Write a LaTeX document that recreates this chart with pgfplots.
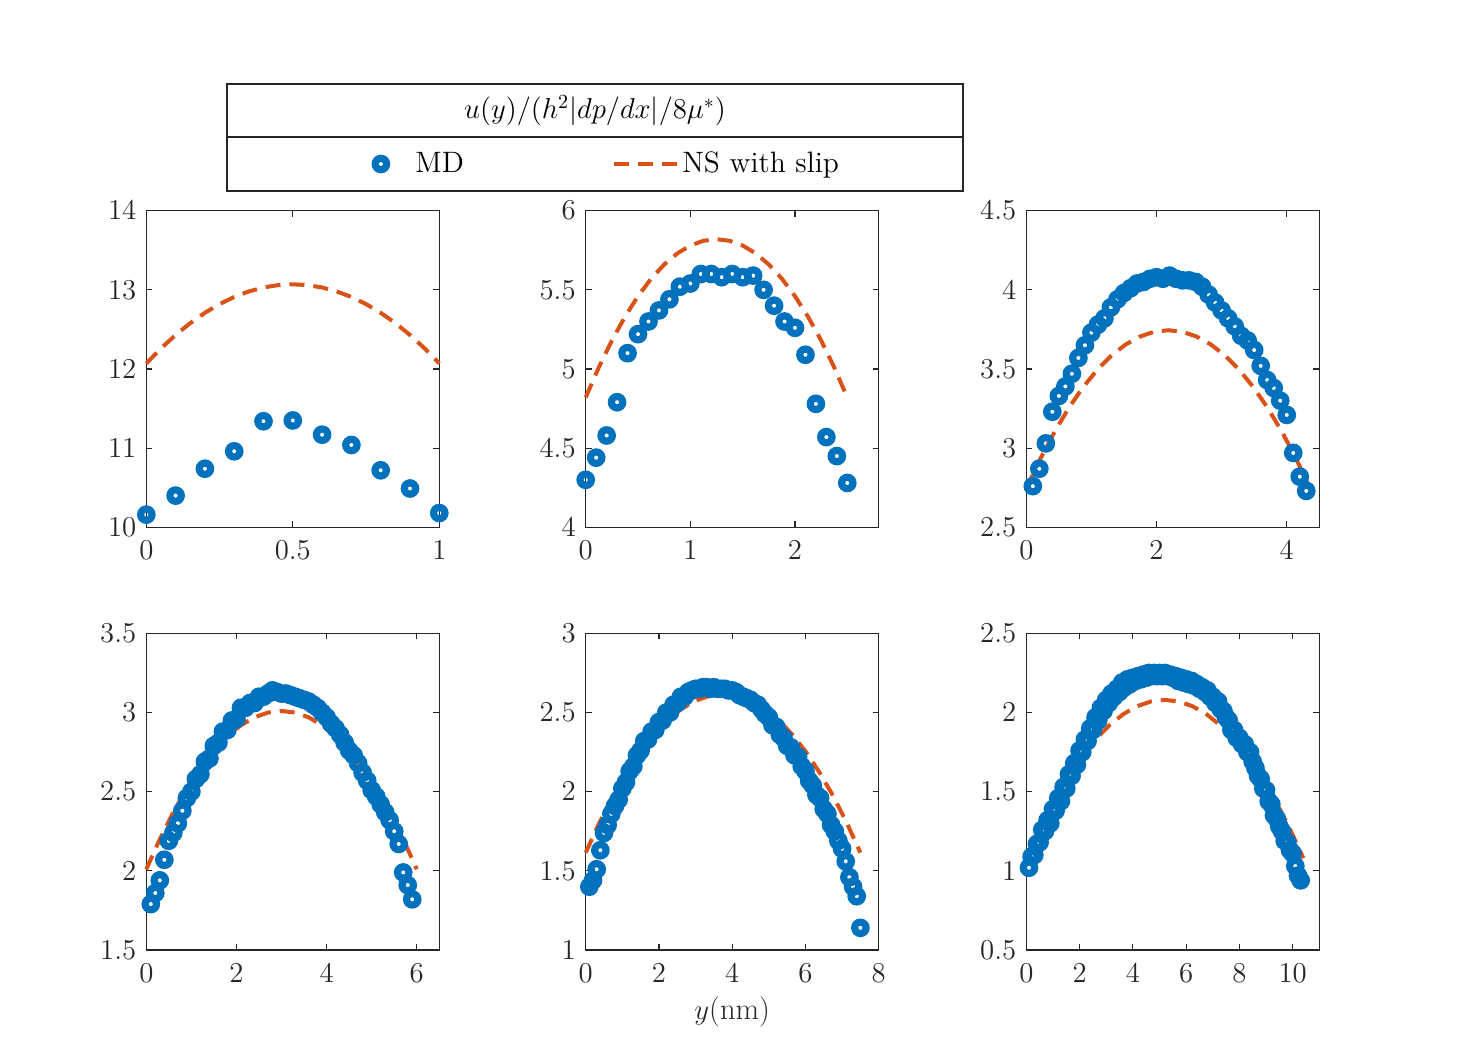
\documentclass[border=0pt]{standalone}
\usepackage{pgfplots}
\pgfplotsset{compat=1.18}
\definecolor{mblue}{rgb}{0,0.447,0.741}
\definecolor{morange}{rgb}{0.85,0.325,0.098}
\definecolor{axgray}{rgb}{0.15,0.15,0.15}
\pgfplotsset{
  panel/.style={
    scale only axis, width=146.5pt, height=158.3pt, anchor=south west,
    clip=false,
    axis line style={axgray, line width=0.6pt},
    tick style={axgray, line width=0.6pt},
    major tick length=3pt,
    tick align=inside,
    tick label style={font=\fontsize{15.25}{18}\selectfont, text=axgray},
    xticklabel style={yshift=-3.5pt},
    yticklabel style={xshift=-1.5pt},
    scaled ticks=false,
  },
  md/.style={only marks, mark=o, mark size=2.85pt, color=mblue, line width=3.6pt,
    legend image code/.code={\path[draw=none,fill=none] (0pt,0pt) (31.5pt,0pt);\draw[##1] plot coordinates {(15.75pt,0pt)};}},
  ns/.style={no marks, color=morange, line width=2pt, dash pattern=on 7.5pt off 4.5pt,
    legend image code/.code={\draw[##1] (0pt,0pt) -- (31.5pt,0pt);}},
}
\begin{document}
\begin{tikzpicture}
\path[use as bounding box] (0,0) rectangle (733.5pt,528pt);
% ---------- panel 1
\begin{axis}[panel, at={(73.15pt,264.35pt)}, xmin=0, xmax=1, ymin=10, ymax=14,
  xtick={0,0.5,1}, ytick={10,11,12,13,14},
  legend columns=2, legend cell align=left,
  legend style={at={(0.6918,1.1475)}, anchor=west, draw=none, fill=none,
    inner xsep=0pt, inner ysep=0pt, nodes={inner sep=1.5pt, text depth=0.15em},
    font=\fontsize{14.75}{17}\selectfont,
    /tikz/every even column/.append style={column sep=72.7pt}},
]
\addplot[md] coordinates {(0,10.16) (0.1,10.40) (0.2,10.74) (0.3,10.96) (0.4,11.34) (0.5,11.35) (0.6,11.17) (0.7,11.04) (0.8,10.72) (0.9,10.49) (1.0,10.18)};
\addlegendentry{MD}
\addplot[ns] coordinates {(0,12.07) (0.05,12.26) (0.1,12.43) (0.15,12.58) (0.2,12.71) (0.25,12.82) (0.3,12.91) (0.35,12.98) (0.4,13.03) (0.45,13.06) (0.5,13.07) (0.55,13.06) (0.6,13.03) (0.65,12.98) (0.7,12.91) (0.75,12.82) (0.8,12.71) (0.85,12.58) (0.9,12.43) (0.95,12.26) (1.0,12.07)};
\addlegendentry{NS with slip}
\end{axis}
% ---------- panel 2
\begin{axis}[panel, at={(292.85pt,264.35pt)}, xmin=0, xmax=2.8, ymin=4, ymax=6,
  xtick={0,1,2}, ytick={4,4.5,5,5.5,6}]
\addplot[md] coordinates {(0,4.30) (0.1,4.44) (0.2,4.58) (0.3,4.79) (0.4,5.10) (0.5,5.22) (0.6,5.30) (0.7,5.37) (0.8,5.44) (0.9,5.52) (1.0,5.54) (1.1,5.60) (1.2,5.60) (1.3,5.58) (1.4,5.60) (1.5,5.58) (1.6,5.59) (1.7,5.50) (1.8,5.40) (1.9,5.30) (2.0,5.26) (2.1,5.09) (2.2,4.78) (2.3,4.57) (2.4,4.45) (2.5,4.28)};
\addplot[ns] coordinates {(0,4.82) (0.125,5.01) (0.25,5.18) (0.375,5.33) (0.5,5.46) (0.625,5.57) (0.75,5.66) (0.875,5.73) (1.0,5.78) (1.125,5.81) (1.25,5.82) (1.375,5.81) (1.5,5.78) (1.625,5.73) (1.75,5.66) (1.875,5.57) (2.0,5.46) (2.125,5.33) (2.25,5.18) (2.375,5.01) (2.5,4.82)};
\end{axis}
% ---------- panel 3
\begin{axis}[panel, at={(513.15pt,264.35pt)}, xmin=0, xmax=4.5, ymin=2.5, ymax=4.5,
  xtick={0,2,4}, ytick={2.5,3,3.5,4,4.5}]
\addplot[md] coordinates {(0.1,2.76) (0.2,2.87) (0.3,3.03) (0.4,3.23) (0.5,3.33) (0.6,3.39) (0.7,3.47) (0.8,3.57) (0.9,3.65) (1.0,3.73) (1.1,3.78) (1.2,3.82) (1.3,3.89) (1.4,3.94) (1.5,3.98) (1.6,4.01) (1.7,4.04) (1.8,4.05) (1.9,4.07) (2.0,4.08) (2.1,4.07) (2.2,4.09) (2.3,4.07) (2.4,4.06) (2.5,4.06) (2.6,4.05) (2.7,4.02) (2.8,3.97) (2.9,3.92) (3.0,3.87) (3.1,3.82) (3.2,3.77) (3.3,3.71) (3.4,3.68) (3.5,3.62) (3.6,3.52) (3.7,3.43) (3.8,3.38) (3.9,3.30) (4.0,3.21) (4.1,2.97) (4.2,2.82) (4.3,2.73)};
\addplot[ns] coordinates {(0,2.745) (0.218,2.935) (0.436,3.105) (0.654,3.255) (0.872,3.385) (1.09,3.495) (1.308,3.585) (1.526,3.655) (1.744,3.705) (1.962,3.735) (2.18,3.745) (2.398,3.735) (2.616,3.705) (2.834,3.655) (3.052,3.585) (3.27,3.495) (3.488,3.385) (3.706,3.255) (3.924,3.105) (4.142,2.935) (4.36,2.745)};
\end{axis}
% ---------- panel 4
\begin{axis}[panel, at={(73.15pt,53pt)}, xmin=0, xmax=6.5, ymin=1.5, ymax=3.5,
  xtick={0,2,4,6}, ytick={1.5,2,2.5,3,3.5}]
\addplot[md] coordinates {(0.1,1.79) (0.2,1.86) (0.3,1.94) (0.4,2.07) (0.5,2.19) (0.6,2.24) (0.7,2.30) (0.8,2.38) (0.9,2.46) (1.0,2.50) (1.1,2.58) (1.2,2.61) (1.3,2.69) (1.4,2.71) (1.5,2.79) (1.6,2.81) (1.7,2.88) (1.8,2.89) (1.9,2.95) (2.0,2.96) (2.1,3.03) (2.2,3.03) (2.3,3.06) (2.4,3.06) (2.5,3.10) (2.6,3.10) (2.7,3.12) (2.8,3.14) (2.9,3.13) (3.0,3.12) (3.1,3.12) (3.2,3.11) (3.3,3.10) (3.4,3.09) (3.5,3.08) (3.6,3.07) (3.7,3.05) (3.8,3.03) (3.9,3.00) (4.0,2.97) (4.1,2.93) (4.2,2.90) (4.3,2.86) (4.4,2.81) (4.5,2.76) (4.6,2.73) (4.7,2.68) (4.8,2.62) (4.9,2.57) (5.0,2.51) (5.1,2.47) (5.2,2.42) (5.3,2.37) (5.4,2.32) (5.5,2.25) (5.6,2.17) (5.7,1.99) (5.8,1.91) (5.9,1.82)};
\addplot[ns] coordinates {(0,2.01) (0.3,2.20) (0.6,2.37) (0.9,2.52) (1.2,2.65) (1.5,2.76) (1.8,2.85) (2.1,2.92) (2.4,2.97) (2.7,3.00) (3.0,3.01) (3.3,3.00) (3.6,2.97) (3.9,2.92) (4.2,2.85) (4.5,2.76) (4.8,2.65) (5.1,2.52) (5.4,2.37) (5.7,2.20) (6.0,2.01)};
\end{axis}
% ---------- panel 5
\begin{axis}[panel, at={(292.85pt,53pt)}, xmin=0, xmax=8, ymin=1, ymax=3,
  xtick={0,2,4,6,8}, ytick={1,1.5,2,2.5,3},
  xlabel={$y$(nm)}, xlabel style={font=\fontsize{15.25}{18}\selectfont, text=axgray}]
\addplot[md] coordinates {(0.1,1.40) (0.2,1.44) (0.3,1.51) (0.4,1.63) (0.5,1.74) (0.6,1.79) (0.7,1.86) (0.8,1.91) (0.9,1.95) (1.0,2.02) (1.1,2.06) (1.2,2.13) (1.3,2.16) (1.4,2.23) (1.5,2.26) (1.6,2.32) (1.7,2.33) (1.8,2.38) (1.9,2.39) (2.0,2.44) (2.1,2.45) (2.2,2.50) (2.3,2.50) (2.4,2.55) (2.5,2.56) (2.6,2.60) (2.7,2.60) (2.8,2.63) (2.9,2.64) (3.0,2.65) (3.1,2.65) (3.2,2.66) (3.3,2.66) (3.4,2.65) (3.5,2.66) (3.6,2.65) (3.7,2.65) (3.8,2.65) (3.9,2.64) (4.0,2.64) (4.1,2.63) (4.2,2.61) (4.3,2.60) (4.4,2.59) (4.5,2.58) (4.6,2.56) (4.7,2.55) (4.8,2.52) (4.9,2.49) (5.0,2.47) (5.1,2.42) (5.2,2.41) (5.3,2.36) (5.4,2.34) (5.5,2.29) (5.6,2.28) (5.7,2.23) (5.8,2.22) (5.9,2.16) (6.0,2.13) (6.1,2.07) (6.2,2.04) (6.3,1.98) (6.4,1.96) (6.5,1.89) (6.6,1.86) (6.7,1.79) (6.8,1.75) (6.9,1.69) (7.0,1.64) (7.1,1.56) (7.2,1.46) (7.3,1.40) (7.4,1.34) (7.5,1.14)};
\addplot[ns] coordinates {(0,1.615) (0.375,1.805) (0.75,1.975) (1.125,2.125) (1.5,2.255) (1.875,2.365) (2.25,2.455) (2.625,2.525) (3.0,2.575) (3.375,2.605) (3.75,2.615) (4.125,2.605) (4.5,2.575) (4.875,2.525) (5.25,2.455) (5.625,2.365) (6.0,2.255) (6.375,2.125) (6.75,1.975) (7.125,1.805) (7.5,1.615)};
\end{axis}
% ---------- panel 6
\begin{axis}[panel, at={(513.15pt,53pt)}, xmin=0, xmax=11, ymin=0.5, ymax=2.5,
  xtick={0,2,4,6,8,10}, ytick={0.5,1,1.5,2,2.5}]
\addplot[md] coordinates {(0.1,1.02) (0.2,1.09) (0.3,1.10) (0.4,1.17) (0.5,1.18) (0.6,1.26) (0.7,1.25) (0.8,1.32) (0.9,1.30) (1.0,1.39) (1.1,1.38) (1.2,1.46) (1.3,1.44) (1.4,1.53) (1.5,1.52) (1.6,1.61) (1.7,1.60) (1.8,1.68) (1.9,1.67) (2.0,1.76) (2.1,1.75) (2.2,1.83) (2.3,1.82) (2.4,1.90) (2.5,1.89) (2.6,1.97) (2.7,1.95) (2.8,2.03) (2.9,2.01) (3.0,2.08) (3.1,2.06) (3.2,2.12) (3.3,2.10) (3.4,2.15) (3.5,2.13) (3.6,2.19) (3.7,2.16) (3.8,2.21) (3.9,2.18) (4.0,2.22) (4.1,2.20) (4.2,2.23) (4.3,2.21) (4.4,2.24) (4.5,2.22) (4.6,2.25) (4.7,2.23) (4.8,2.25) (4.9,2.23) (5.0,2.25) (5.1,2.23) (5.2,2.25) (5.3,2.23) (5.4,2.24) (5.5,2.22) (5.6,2.23) (5.7,2.20) (5.8,2.22) (5.9,2.19) (6.0,2.21) (6.1,2.18) (6.2,2.20) (6.3,2.17) (6.4,2.18) (6.5,2.15) (6.6,2.16) (6.7,2.13) (6.8,2.14) (6.9,2.10) (7.0,2.10) (7.1,2.06) (7.2,2.07) (7.3,2.02) (7.4,2.01) (7.5,1.97) (7.6,1.95) (7.7,1.89) (7.8,1.89) (7.9,1.84) (8.0,1.84) (8.1,1.80) (8.2,1.80) (8.3,1.75) (8.4,1.75) (8.5,1.69) (8.6,1.65) (8.7,1.60) (8.8,1.58) (8.9,1.52) (9.0,1.51) (9.1,1.44) (9.2,1.42) (9.3,1.35) (9.4,1.33) (9.5,1.28) (9.6,1.25) (9.7,1.19) (9.8,1.18) (9.9,1.13) (10.0,1.11) (10.1,1.03) (10.2,0.97) (10.3,0.94)};
\addplot[ns] coordinates {(0,1.08) (0.52,1.27) (1.04,1.44) (1.56,1.59) (2.08,1.72) (2.6,1.83) (3.12,1.92) (3.64,1.99) (4.16,2.04) (4.68,2.07) (5.2,2.08) (5.72,2.07) (6.24,2.04) (6.76,1.99) (7.28,1.92) (7.8,1.83) (8.32,1.72) (8.84,1.59) (9.36,1.44) (9.88,1.27) (10.4,1.08)};
\end{axis}
% ---------- legend frame and title
\draw[axgray, line width=0.6pt] (113.5pt,432.5pt) rectangle (481.5pt,486pt);
\draw[axgray, line width=0.6pt] (113.5pt,459.5pt) -- (481.5pt,459.5pt);
\node[font=\fontsize{14.75}{17}\selectfont] at (297.5pt,472.75pt) {$u(y)/(h^2|dp/dx|/8\mu^*)$};
\end{tikzpicture}
\end{document}
